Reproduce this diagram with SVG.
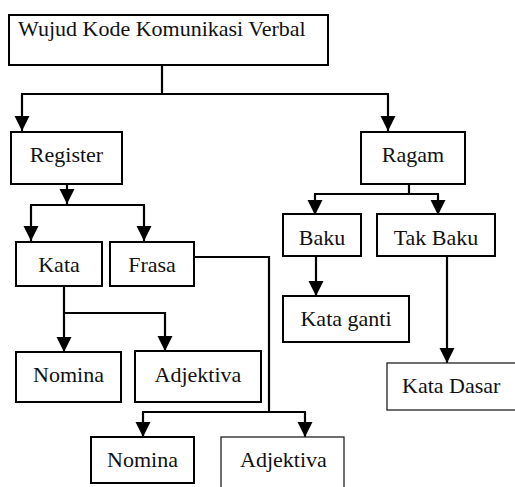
<svg xmlns="http://www.w3.org/2000/svg" width="515" height="487" viewBox="0 0 515 487">
<style>
rect{fill:#fff;stroke:#000;stroke-width:2}
rect.thin{stroke:#222;stroke-width:1.3}
text{font-family:'Liberation Serif','Times New Roman',Times,'DejaVu Serif',serif;font-size:22px;fill:#111}
.c{text-anchor:middle}
#connectors line,#connectors polyline{fill:none;stroke:#000;stroke-width:2.2}
.a{marker-end:url(#arr)}
</style>
<defs>
<marker id="arr" markerUnits="userSpaceOnUse" markerWidth="16" markerHeight="16" refX="15" refY="7.5" orient="auto"><path d="M0,0 L15,7.5 L0,15 z" fill="#000"/></marker>
</defs>
<rect width="515" height="487" style="fill:#fff;stroke:none"/>
<g id="connectors">
<line x1="162" y1="66" x2="162" y2="94"/>
<line x1="21" y1="94" x2="389" y2="94"/>
<line class="a" x1="22" y1="94" x2="22" y2="131"/>
<line class="a" x1="388" y1="94" x2="388" y2="131"/>
<line class="a" x1="67" y1="184" x2="67" y2="204"/>
<line x1="30" y1="205" x2="145" y2="205"/>
<line class="a" x1="31" y1="205" x2="31" y2="241"/>
<line class="a" x1="144" y1="205" x2="144" y2="241"/>
<polyline points="194,257 269,257 269,412"/>
<line x1="142" y1="412" x2="306" y2="412"/>
<line class="a" x1="143" y1="412" x2="143" y2="437"/>
<line class="a" x1="305" y1="412" x2="305" y2="437"/>
<line class="a" x1="64" y1="286" x2="64" y2="352"/>
<polyline class="a" points="64,313 165,313 165,351"/>
<line x1="409" y1="184" x2="409" y2="194"/>
<line x1="314" y1="194" x2="439" y2="194"/>
<line class="a" x1="315" y1="194" x2="315" y2="215"/>
<line class="a" x1="438" y1="194" x2="438" y2="215"/>
<line class="a" x1="316" y1="256" x2="316" y2="296"/>
<line class="a" x1="447" y1="256" x2="447" y2="363"/>
</g>
<g id="wujud"><rect x="9" y="15" width="319" height="50"/><text x="18" y="36">Wujud Kode Komunikasi Verbal</text></g>
<g id="register"><rect x="11" y="132" width="111" height="52"/><text class="c" x="66.5" y="162">Register</text></g>
<g id="ragam"><rect x="361" y="132" width="104" height="52"/><text class="c" x="413" y="162">Ragam</text></g>
<g id="kata"><rect x="16" y="242" width="86" height="44"/><text class="c" x="59" y="272">Kata</text></g>
<g id="frasa"><rect x="110" y="242" width="84" height="44"/><text class="c" x="152" y="272">Frasa</text></g>
<g id="baku"><rect x="283" y="214" width="78" height="42"/><text class="c" x="322" y="245">Baku</text></g>
<g id="takbaku"><rect x="377" y="214" width="118" height="42"/><text class="c" x="436" y="245">Tak Baku</text></g>
<g id="kataganti"><rect x="283" y="296" width="126" height="46"/><text class="c" x="346" y="326">Kata ganti</text></g>
<g id="katadasar"><rect class="thin" x="387" y="363" width="140" height="47"/><text x="402" y="393">Kata Dasar</text></g>
<g id="nomina1"><rect x="16" y="352" width="105" height="50"/><text class="c" x="68.5" y="382">Nomina</text></g>
<g id="adjektiva1"><rect x="135" y="351" width="126" height="51"/><text class="c" x="198" y="382">Adjektiva</text></g>
<g id="nomina2"><rect x="91" y="437" width="103" height="46"/><text class="c" x="142.5" y="467">Nomina</text></g>
<g id="adjektiva2"><rect class="thin" x="221" y="437" width="123" height="60"/><text x="240" y="467">Adjektiva</text></g>
</svg>
